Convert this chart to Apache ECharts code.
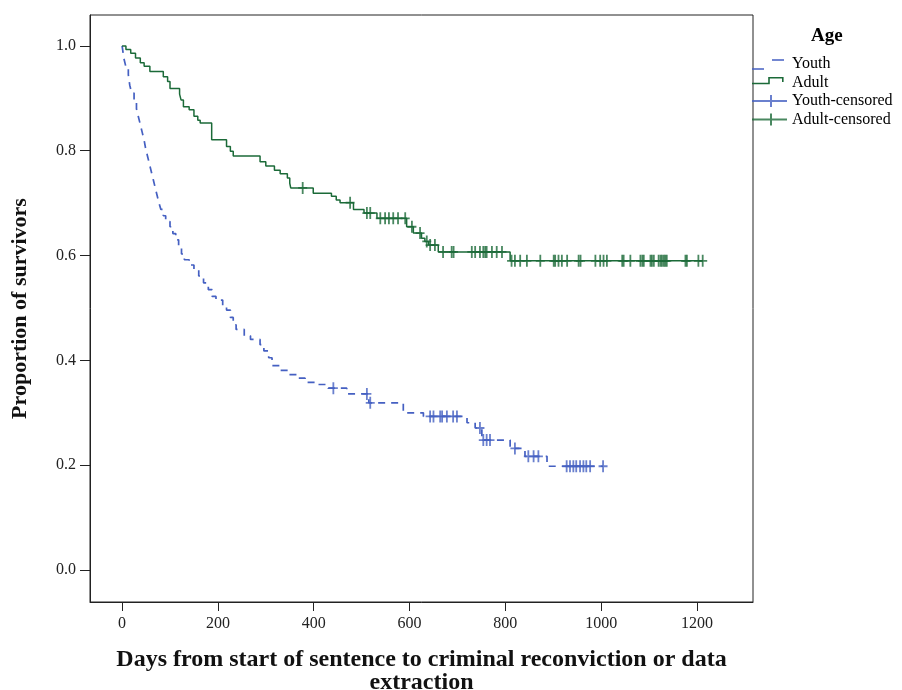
<!DOCTYPE html>
<html>
<head>
<meta charset="utf-8">
<script src="https://cdn.jsdelivr.net/npm/echarts@6/dist/echarts.min.js"></script>
<style>
  html, body { margin: 0; padding: 0; background: #fff; }
  #km { width: 902px; height: 690px; }
</style>
</head>
<body>
<div id="km"></div>
<script>
// Kaplan-Meier step data: day where the step happens, survival after it
let youthDays = [0, 4, 8, 13, 16, 20, 25, 30, 34, 38, 42, 46, 49, 53, 57, 61, 65, 69, 73, 77,
  81, 86, 91, 100, 106, 112, 118, 124, 130, 140, 150, 160, 170, 180, 188, 196, 210, 218, 226, 232,
  238, 255, 268, 288, 296, 306, 313, 330, 347, 365, 382, 405, 430, 469, 515, 587, 629, 720, 737, 751,
  810, 841, 887, 1004];
let youthSurv = [1.0, 0.975, 0.96, 0.945, 0.925, 0.91, 0.895, 0.88, 0.865, 0.85, 0.835, 0.82, 0.805, 0.79, 0.775, 0.76, 0.745, 0.73, 0.715, 0.70,
  0.688, 0.676, 0.665, 0.655, 0.642, 0.63, 0.615, 0.603, 0.592, 0.582, 0.573, 0.561, 0.548, 0.535, 0.522, 0.515, 0.505, 0.496, 0.482, 0.468,
  0.459, 0.447, 0.44, 0.43, 0.418, 0.405, 0.39, 0.381, 0.373, 0.366, 0.358, 0.354, 0.347, 0.336, 0.319, 0.30, 0.293, 0.281, 0.271, 0.248,
  0.232, 0.217, 0.198, 0.198];
let youthCensored = [441, 511, 518, 643, 650, 664, 668, 678, 691, 699, 747, 754, 761, 768, 820, 848, 859, 869,
  928, 935, 942, 948, 956, 963, 969, 977, 1004];

let adultDays = [0, 8, 18, 28, 38, 46, 58, 86, 95, 100, 120, 123, 128, 140, 150, 158, 163, 187, 218, 226,
  232, 288, 300, 318, 330, 345, 350, 352, 399, 437, 447, 455, 483, 505, 532, 594, 608, 625, 632, 640,
  660, 810, 1212];
let adultSurv = [1.0, 0.993, 0.986, 0.977, 0.968, 0.961, 0.951, 0.941, 0.932, 0.919, 0.908, 0.897, 0.884, 0.878, 0.866, 0.858, 0.853, 0.821, 0.808, 0.799,
  0.79, 0.779, 0.771, 0.763, 0.756, 0.748, 0.738, 0.729, 0.719, 0.713, 0.706, 0.701, 0.688, 0.681, 0.671, 0.655, 0.643, 0.633, 0.627, 0.62,
  0.607, 0.59, 0.59];
let adultCensored = [377, 476, 511, 518, 539, 549, 557, 566, 576, 591, 605, 622, 636, 643, 653, 670, 688, 692,
  730, 737, 747, 754, 758, 761, 772, 782, 793, 813, 820, 831, 845, 873, 901, 904, 911, 918, 929, 953, 957,
  988, 998, 1005, 1012, 1044, 1047, 1061, 1082, 1086, 1089, 1103, 1106, 1110, 1120, 1124, 1127, 1131, 1134,
  1137, 1176, 1179, 1203, 1212];

let xTicks = [0, 200, 400, 600, 800, 1000, 1200];
let yTicks = [0, 0.2, 0.4, 0.6, 0.8, 1.0];

const BLUE = '#4560c2';
const GREEN = '#1b6a38';
const SERIF = '"Liberation Serif", "DejaVu Serif", serif';

function stepPairs(days, surv) {
  return days.map((d, i) => [d, surv[i]]);
}
// survival value at a censoring time
function censorPairs(cens, days, surv) {
  return cens.map(t => {
    let v = surv[0];
    for (let i = 0; i < days.length; i++) {
      if (days[i] <= t) v = surv[i];
    }
    return [t, v];
  });
}

// small corner specks keep each icon's box at 35x12
const BOX = 'M0,0 h0.01 v0.01 Z M35,12 h-0.01 v-0.01 Z ';
const iconYouth = 'path://' + BOX + 'M0,10.2 H12 V11.8 H0 Z M20,1.2 H32 V2.8 H20 Z';
const iconAdult = 'path://' + BOX + 'M0,6.2 H16.2 V0.4 H31.6 V5.6 H30 V2 H17.8 V7.8 H0 Z';
const iconCens = 'path://' + BOX + 'M0,5 H35 V7 H0 Z M18,0 H20 V12 H18 Z';
const plus = 'path://M3.6,0 H5.4 V5.1 H9 V6.9 H5.4 V12 H3.6 V6.9 H0 V5.1 H3.6 Z';

let myChart = echarts.init(document.getElementById('km'));
myChart.setOption({
  animation: false,
  title: {
    text: 'Age',
    left: 811,
    top: 27,
    padding: 0,
    textStyle: { fontFamily: SERIF, fontWeight: 'bold', fontSize: 19, color: '#000' }
  },
  legend: {
    orient: 'vertical',
    left: 752,
    top: 56,
    padding: 0,
    itemWidth: 35,
    itemHeight: 12,
    itemGap: 2.5,
    symbolKeepAspect: false,
    textStyle: { fontFamily: SERIF, fontSize: 16, color: '#000' },
    data: [
      { name: 'Youth', icon: iconYouth },
      { name: 'Adult', icon: iconAdult },
      { name: 'Youth-censored', icon: iconCens },
      { name: 'Adult-censored', icon: iconCens }
    ]
  },
  grid: {
    left: 90,
    right: 149,
    top: 15,
    bottom: 88,
    outerBoundsMode: 'none',
    show: true,
    borderColor: '#222',
    borderWidth: 1
  },
  xAxis: {
    type: 'value',
    min: -67,
    max: 1317,
    name: 'Days from start of sentence to criminal reconviction or data\nextraction',
    nameLocation: 'middle',
    nameGap: 46,
    nameTextStyle: { fontFamily: SERIF, fontWeight: 'bold', fontSize: 24, color: '#111', lineHeight: 23 },
    axisLine: { onZero: false, lineStyle: { color: '#222', width: 1 } },
    axisTick: { customValues: xTicks, length: 9, lineStyle: { color: '#222' } },
    axisLabel: {
      customValues: xTicks, margin: 14, fontFamily: SERIF, fontSize: 16, color: '#222',
      formatter: v => String(v)
    },
    splitLine: { show: false }
  },
  yAxis: {
    type: 'value',
    min: -0.061,
    max: 1.059,
    name: 'Proportion of survivors',
    nameLocation: 'middle',
    nameGap: 59,
    nameTextStyle: { fontFamily: SERIF, fontWeight: 'bold', fontSize: 22, color: '#111' },
    axisLine: { show: true, onZero: false, lineStyle: { color: '#222', width: 1 } },
    axisTick: { show: true, customValues: yTicks, length: 10, lineStyle: { color: '#222' } },
    axisLabel: {
      customValues: yTicks, margin: 14, fontFamily: SERIF, fontSize: 16, color: '#222',
      formatter: v => v.toFixed(1)
    },
    splitLine: { show: false }
  },
  series: [{
    name: 'Youth',
    type: 'line',
    step: 'end',
    showSymbol: false,
    itemStyle: { color: BLUE },
    lineStyle: { color: BLUE, width: 1.7, type: [7, 6] },
    data: stepPairs(youthDays, youthSurv)
  }, {
    name: 'Adult',
    type: 'line',
    step: 'end',
    showSymbol: false,
    itemStyle: { color: GREEN },
    lineStyle: { color: GREEN, width: 1.5 },
    data: stepPairs(adultDays, adultSurv)
  }, {
    name: 'Youth-censored',
    type: 'scatter',
    symbol: plus,
    symbolSize: [9, 12],
    itemStyle: { color: BLUE },
    data: censorPairs(youthCensored, youthDays, youthSurv)
  }, {
    name: 'Adult-censored',
    type: 'scatter',
    symbol: plus,
    symbolSize: [9, 12],
    itemStyle: { color: GREEN },
    data: censorPairs(adultCensored, adultDays, adultSurv)
  }]
});
</script>
</body>
</html>
